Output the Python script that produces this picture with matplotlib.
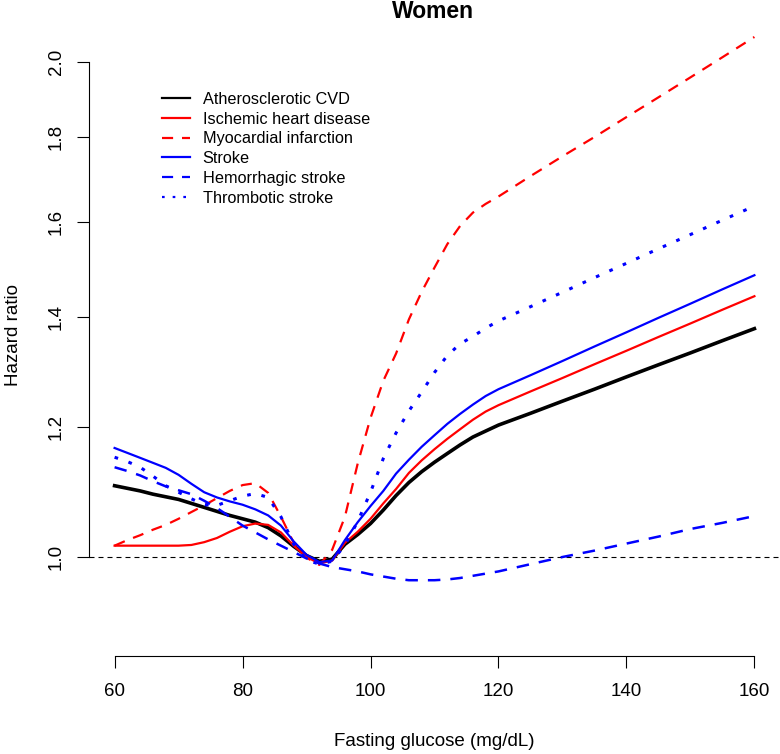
import matplotlib
matplotlib.use("Agg")
import matplotlib.pyplot as plt
from matplotlib.ticker import NullLocator

plt.rcParams['font.family'] = ['Liberation Sans', 'DejaVu Sans']

glucose = [60, 62, 64, 66, 68, 70, 72, 74, 76, 78, 80, 82, 84, 86, 88, 90, 92, 94,
           96, 98, 100, 102, 104, 106, 108, 110, 112, 114, 116, 118, 120,
           125, 130, 135, 140, 145, 150, 155, 160]

ascvd = [1.105, 1.101, 1.097, 1.092, 1.088, 1.084, 1.078, 1.072, 1.066, 1.060, 1.055,
         1.050, 1.042, 1.030, 1.015, 1.002, 0.994, 0.997, 1.018, 1.032, 1.048, 1.068,
         1.090, 1.110, 1.127, 1.142, 1.156, 1.170, 1.183, 1.193, 1.203,
         1.223, 1.244, 1.265, 1.287, 1.309, 1.331, 1.354, 1.377]

ihd = [1.016, 1.016, 1.016, 1.016, 1.016, 1.016, 1.017, 1.021, 1.027, 1.036, 1.044,
       1.048, 1.046, 1.035, 1.016, 1.000, 0.991, 0.995, 1.020, 1.036, 1.055, 1.078,
       1.100, 1.125, 1.145, 1.163, 1.180, 1.196, 1.212, 1.226, 1.237,
       1.261, 1.285, 1.310, 1.335, 1.361, 1.387, 1.414, 1.441]

mi = [1.016, 1.024, 1.031, 1.039, 1.046, 1.055, 1.065, 1.075, 1.086, 1.097, 1.106,
      1.109, 1.094, 1.058, 1.020, 0.999, 0.989, 1.010, 1.058, 1.140, 1.215, 1.280,
      1.330, 1.395, 1.450, 1.500, 1.550, 1.590, 1.620, 1.640, 1.657,
      1.705, 1.753, 1.801, 1.852, 1.904, 1.958, 2.014, 2.072]

stroke = [1.165, 1.157, 1.149, 1.141, 1.133, 1.122, 1.108, 1.095, 1.087, 1.081, 1.076,
          1.069, 1.060, 1.045, 1.022, 1.003, 0.993, 0.995, 1.024, 1.050, 1.074, 1.097,
          1.124, 1.146, 1.167, 1.186, 1.205, 1.222, 1.238, 1.253, 1.265,
          1.290, 1.316, 1.343, 1.370, 1.398, 1.426, 1.455, 1.484]

hemorrhagic = [1.134, 1.128, 1.121, 1.112, 1.104, 1.098, 1.092, 1.082, 1.071, 1.058, 1.045,
               1.035, 1.025, 1.016, 1.007, 0.998, 0.991, 0.986, 0.983, 0.980, 0.976, 0.973,
               0.970, 0.968, 0.968, 0.968, 0.969, 0.971, 0.974, 0.977, 0.980,
               0.990, 1.000, 1.009, 1.019, 1.029, 1.040, 1.049, 1.059]

thrombotic = [1.150, 1.143, 1.134, 1.120, 1.105, 1.095, 1.085, 1.076, 1.075, 1.082, 1.089,
              1.093, 1.087, 1.058, 1.018, 0.996, 0.990, 0.994, 1.017, 1.051, 1.095, 1.148,
              1.190, 1.227, 1.260, 1.295, 1.326, 1.348, 1.362, 1.378, 1.392,
              1.420, 1.449, 1.479, 1.509, 1.540, 1.571, 1.603, 1.635]

labels = ['Atherosclerotic CVD', 'Ischemic heart disease', 'Myocardial infarction',
          'Stroke', 'Hemorrhagic stroke', 'Thrombotic stroke']

yticks = [1.0, 1.2, 1.4, 1.6, 1.8, 2.0]
xticks = [60, 80, 100, 120, 140, 160]

W, H = 780, 754
fig = plt.figure(figsize=(W / 100, H / 100), dpi=100)
ax = fig.add_axes([89 / W, (H - 656) / H, (780 - 89) / W, (656 - 3) / H])
ax.set_yscale('log')
ax.set_xlim(56, 164)
ax.set_ylim(0.8705, 2.173)

dash = (5, 4)
dot = (1.2, 3.6)
ax.axhline(1.0, color='black', lw=0.8, dashes=(4.5, 3.6))
ax.plot(glucose, ascvd, color='black', lw=2.6, label=labels[0])
ax.plot(glucose, ihd, color='#ff0000', lw=1.6, label=labels[1])
ax.plot(glucose, mi, color='#ff0000', lw=1.6, dashes=dash, label=labels[2])
ax.plot(glucose, stroke, color='#0000ff', lw=1.6, label=labels[3])
ax.plot(glucose, hemorrhagic, color='#0000ff', lw=1.8, dashes=dash, label=labels[4])
ax.plot(glucose, thrombotic, color='#0000ff', lw=2.2, dashes=dot, label=labels[5])

ax.set_xticks(xticks)
ax.set_xticklabels([str(v) for v in xticks])
ax.set_yticks(yticks)
ax.set_yticklabels(['%.1f' % v for v in yticks], rotation=90, va='center')
ax.yaxis.set_minor_locator(NullLocator())
ax.tick_params(axis='both', labelsize=13.5, length=8.3, width=0.8, direction='out')
ax.tick_params(axis='x', pad=11)
ax.tick_params(axis='y', pad=9)

for s in ['top', 'right']:
    ax.spines[s].set_visible(False)
ax.spines['left'].set_bounds(1.0, 2.0)
ax.spines['bottom'].set_bounds(60, 160)
ax.spines['left'].set_linewidth(0.8)
ax.spines['bottom'].set_linewidth(0.8)

fig.text(433 / W, 1 - 11 / H, 'Women', ha='center', va='center',
         fontsize=16.5, fontweight='bold')
fig.text(434 / W, 1 - 741 / H, 'Fasting glucose (mg/dL)', ha='center', va='center',
         fontsize=13.5)
fig.text(14 / W, 1 - 335 / H, 'Hazard ratio', ha='center', va='center',
         fontsize=13.5, rotation=90)

leg = ax.legend(loc='upper left', bbox_to_anchor=(162 / W, 1 - 92 / H),
                bbox_transform=fig.transFigure, frameon=False, fontsize=11.7,
                handlelength=1.75, handletextpad=0.75, labelspacing=0.29,
                borderpad=0, borderaxespad=0)
for ln in leg.get_lines():
    ln.set_linewidth(1.6)

fig.savefig('out.png', dpi=100)
